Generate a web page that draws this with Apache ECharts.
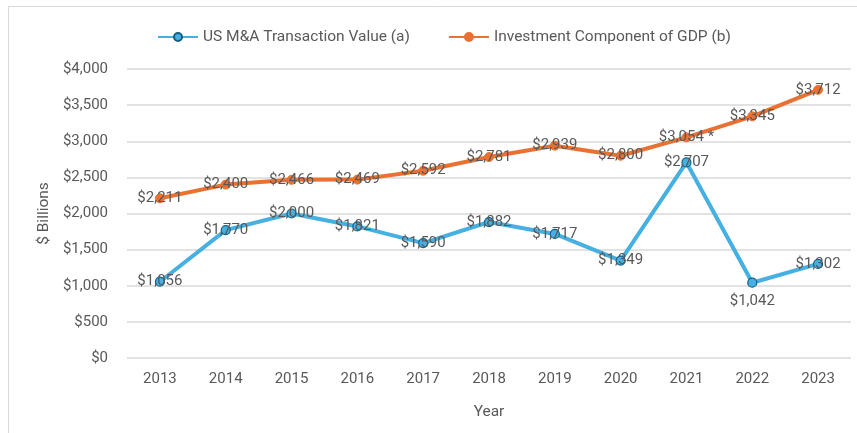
<!DOCTYPE html>
<html>
<head>
<meta charset="utf-8">
<script src="https://cdn.jsdelivr.net/npm/echarts@6/dist/echarts.min.js"></script>
<style>
    html, body { margin: 0; padding: 0; background: #ffffff; }
    #chart { width: 857px; height: 433px; }
</style>
</head>
<body>
<div id="chart"></div>
<script>
// data
var years = ['2013', '2014', '2015', '2016', '2017', '2018', '2019', '2020', '2021', '2022', '2023'];
var maValue = [1056, 1770, 2000, 1821, 1590, 1882, 1717, 1349, 2707, 1042, 1302];
var gdpInvest = [2211, 2400, 2466, 2469, 2592, 2781, 2939, 2800, 3054, 3345, 3712];
var gdpNotes = { '2021': ' *' };
var yTicks = [0, 500, 1000, 1500, 2000, 2500, 3000, 3500, 4000];

var textColor = '#595959';
var fontFam = 'Roboto, "Liberation Sans", sans-serif';

function money(v) {
    return '$' + v.toLocaleString('en-US');
}

var chart = echarts.init(document.getElementById('chart'));

chart.setOption({
    animation: false,
    textStyle: { fontFamily: fontFam },
    graphic: [
        {
            type: 'rect',
            shape: { x: 8.5, y: 6.5, width: 900, height: 500 },
            style: { fill: 'none', stroke: '#d9d9d9', lineWidth: 1 },
            silent: true,
        },
    ],
    legend: {
        top: 24,
        left: 152,
        itemWidth: 40,
        itemHeight: 10,
        itemGap: 38,
        textStyle: { color: textColor, fontSize: 15.5, fontFamily: fontFam },
        data: ['US M&A Transaction Value (a)', 'Investment Component of GDP (b)'],
    },
    grid: { left: 127, right: 6, top: 69, bottom: 75 },
    xAxis: {
        type: 'category',
        data: years,
        boundaryGap: true,
        name: 'Year',
        nameLocation: 'middle',
        nameGap: 46,
        nameTextStyle: { color: textColor, fontSize: 15.5 },
        axisLine: { show: false },
        axisTick: { show: false },
        axisLabel: { color: textColor, fontSize: 15, margin: 14 },
    },
    yAxis: {
        type: 'value',
        min: yTicks[0],
        max: yTicks[yTicks.length - 1],
        interval: 500,
        name: '$ Billions',
        nameLocation: 'middle',
        nameGap: 71,
        nameTextStyle: { color: textColor, fontSize: 15.5 },
        axisLine: { show: false },
        axisTick: { show: false },
        axisLabel: { color: textColor, fontSize: 15, margin: 19, formatter: money },
        splitLine: { lineStyle: { color: '#d9d9d9', width: 1.5 } },
    },
    series: [
        {
            name: 'US M&A Transaction Value (a)',
            type: 'line',
            data: maValue,
            symbol: 'circle',
            symbolSize: 9,
            lineStyle: { color: '#45b0e1', width: 4 },
            itemStyle: { color: '#45b0e1', borderColor: '#156082', borderWidth: 1.2 },
            label: {
                show: true,
                position: 'inside',
                color: textColor,
                fontSize: 15,
                formatter: function (p) { return money(p.value); },
            },
            labelLayout: function (params) {
                // 2022 label sits under its point
                if (params.dataIndex === 9) {
                    return { dy: 19 };
                }
            },
            z: 3,
        },
        {
            name: 'Investment Component of GDP (b)',
            type: 'line',
            data: gdpInvest,
            symbol: 'circle',
            symbolSize: 9,
            lineStyle: { color: '#e97132', width: 4 },
            itemStyle: { color: '#e97132', borderColor: '#e97132', borderWidth: 1 },
            label: {
                show: true,
                position: 'inside',
                color: textColor,
                fontSize: 15,
                formatter: function (p) { return money(p.value) + (gdpNotes[p.name] || ''); },
            },
            z: 2,
        },
    ],
});
</script>
</body>
</html>
